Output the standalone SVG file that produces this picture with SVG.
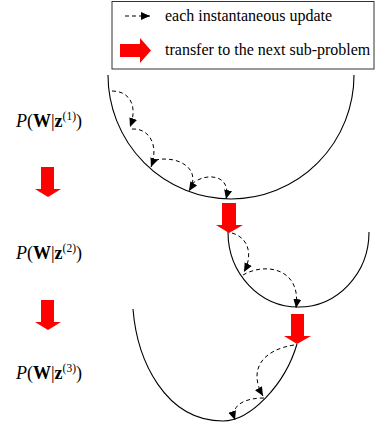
<svg xmlns="http://www.w3.org/2000/svg" width="375" height="426" viewBox="0 0 375 426">
<style>
.t{font-family:"Liberation Serif","Times New Roman",serif;font-size:16px;fill:#000}
.lab{font-family:"Liberation Serif","Times New Roman",serif;font-size:18px;fill:#000}
.sup{font-size:11.5px}
.curve{fill:none;stroke:#000;stroke-width:1.1}
.dash{fill:none;stroke:#000;stroke-width:1;stroke-dasharray:4 3}
.red{fill:#ff0000}
</style>
<defs>
<marker id="ah" markerUnits="userSpaceOnUse" markerWidth="10" markerHeight="10" viewBox="0 0 10 10" refX="9" refY="5" orient="auto">
<path d="M0,1 L9,5 L0,9 Z" fill="#000"/>
</marker>
</defs>
<rect width="375" height="426" fill="#fff"/>
<g id="legend">
<rect x="112" y="1.5" width="262" height="67.5" fill="#fff" stroke="#333" stroke-width="1"/>
<line x1="125" y1="16" x2="150" y2="16" class="dash" marker-end="url(#ah)"/>
<text class="t" x="165" y="21">each instantaneous update</text>
<path class="red" d="M120,44 L140,44 L140,38 L151,50.5 L140,63 L140,57 L120,57 Z"/>
<text class="t" x="165" y="55">transfer to the next sub-problem</text>
</g>
<g id="label1"><text class="lab" x="16" y="127"><tspan font-style="italic">P</tspan>(<tspan font-weight="bold">W</tspan>|<tspan font-weight="bold">z</tspan><tspan class="sup" dy="-7">(1)</tspan><tspan dy="7">)</tspan></text></g>
<g id="label2"><text class="lab" x="16" y="259"><tspan font-style="italic">P</tspan>(<tspan font-weight="bold">W</tspan>|<tspan font-weight="bold">z</tspan><tspan class="sup" dy="-7">(2)</tspan><tspan dy="7">)</tspan></text></g>
<g id="label3"><text class="lab" x="16" y="379"><tspan font-style="italic">P</tspan>(<tspan font-weight="bold">W</tspan>|<tspan font-weight="bold">z</tspan><tspan class="sup" dy="-7">(3)</tspan><tspan dy="7">)</tspan></text></g>
<g id="down1"><path class="red" d="M41,167 L54,167 L54,189 L61,189 L48,197 L35,189 L41,189 Z"/></g>
<g id="down2"><path class="red" d="M41,300 L54,300 L54,322 L61,322 L48,330 L35,322 L41,322 Z"/></g>
<g id="curve1"><path class="curve" d="M108,75 A123,124 0 0 0 354,75"/></g>
<g id="curve2"><path class="curve" d="M228,232 A70.5,75 0 0 0 369,232"/></g>
<g id="curve3"><path class="curve" d="M133,309 C137,360 165,421 223,421 C250,421 285,385 297,344"/></g>
<g id="transfer1"><path class="red" d="M222,203 L236,203 L236,225 L243,225 L229,233 L216,225 L222,225 Z"/></g>
<g id="transfer2"><path class="red" d="M291,314 L304,314 L304,336 L311,336 L297,344 L284,336 L291,336 Z"/></g>
<g id="connectors">
<path class="dash" d="M112,91 C130,91 138,106 130,127" marker-end="url(#ah)"/>
<path class="dash" d="M132,129 C150,128 159,146 151,167" marker-end="url(#ah)"/>
<path class="dash" d="M155,160 C180,155 202,170 189,191" marker-end="url(#ah)"/>
<path class="dash" d="M192,184 C205,172 232,174 226,199" marker-end="url(#ah)"/>
<path class="dash" d="M232,233 C249,238 253,255 244,272" marker-end="url(#ah)"/>
<path class="dash" d="M243,275 C265,262 302,268 296,308" marker-end="url(#ah)"/>
<path class="dash" d="M294,345 C262,350 248,370 263,396" marker-end="url(#ah)"/>
<path class="dash" d="M264,398 C245,398 230,405 235,420" marker-end="url(#ah)"/>
</g>
</svg>
